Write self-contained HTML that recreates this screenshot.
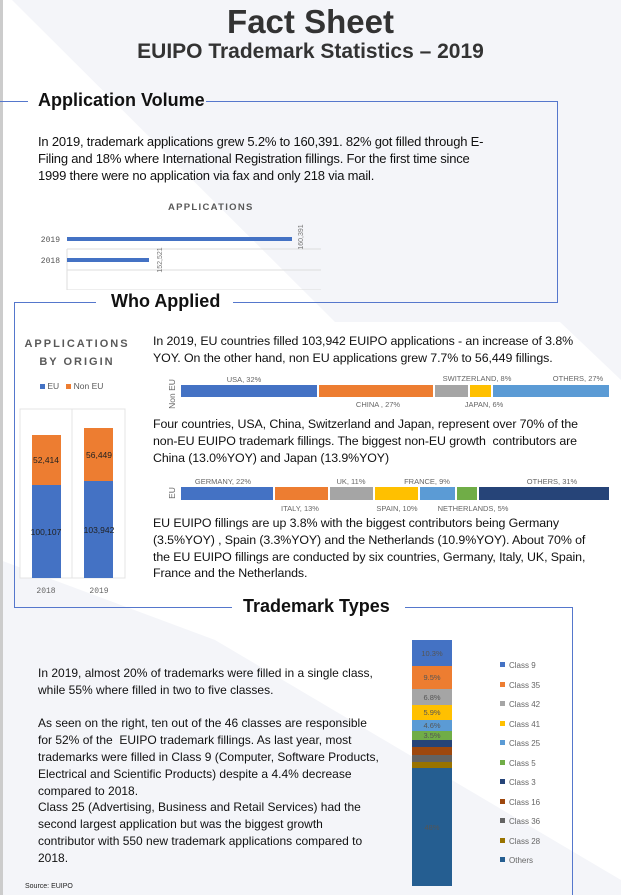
<!DOCTYPE html>
<html><head><meta charset="utf-8"><style>
body{margin:0;width:621px;height:895px;position:relative;overflow:hidden;background:#fff;font-family:"Liberation Sans",sans-serif;color:#111}
.a{position:absolute;white-space:nowrap}
.h{font-weight:bold;font-size:18px}
.ln{position:absolute;background:#5577cc}
.wp{font-size:12.4px;line-height:16.8px;letter-spacing:-0.1px}
</style></head><body>
<svg class="a" style="left:0;top:0" width="621" height="895">
<polygon points="12,0 621,0 621,380 560,322 335,322" fill="#f4f5f9"/>
<polygon points="0,560 215,640 621,880 621,895 0,895" fill="#f4f5f9"/>
<rect x="0" y="0" width="3" height="895" fill="#ccc"/>
</svg>
<div class="a" style="left:0;width:621px;text-align:center;top:3px;font-size:33px;font-weight:bold;color:#333">Fact Sheet</div>
<div class="a" style="left:0;width:621px;text-align:center;top:40px;font-size:21px;font-weight:bold;color:#333">EUIPO Trademark Statistics – 2019</div>

<div class="ln" style="left:0;top:101px;width:28px;height:1px"></div>
<div class="ln" style="left:206px;top:101px;width:352px;height:1px"></div>
<div class="ln" style="left:557px;top:101px;width:1px;height:202px"></div>
<div class="ln" style="left:233px;top:302px;width:325px;height:1px"></div>
<div class="ln" style="left:14px;top:302px;width:82px;height:1px"></div>
<div class="ln" style="left:14px;top:302px;width:1px;height:306px"></div>
<div class="ln" style="left:14px;top:607px;width:218px;height:1px"></div>
<div class="ln" style="left:405px;top:607px;width:167px;height:1px"></div>
<div class="ln" style="left:572px;top:607px;width:1px;height:288px"></div>

<div class="a h" style="left:38px;top:90px">Application Volume</div>
<div class="a" style="left:38px;top:133px;font-size:13px;line-height:17px;letter-spacing:-0.2px">In 2019, trademark applications grew 5.2% to 160,391. 82% got filled through E-<br>Filing and 18% where International Registration fillings. For the first time since<br>1999 there were no application via fax and only 218 via mail.</div>
<div class="a" style="left:168px;top:202px;font-size:9.5px;font-weight:bold;color:#595959;letter-spacing:1.3px">APPLICATIONS</div>
<svg class="a" style="left:0;top:220px" width="340" height="70">
<line x1="67" y1="29" x2="321" y2="29" stroke="#ddd"/><line x1="67" y1="50" x2="321" y2="50" stroke="#ddd"/><line x1="67" y1="70" x2="321" y2="70" stroke="#ddd"/><line x1="67" y1="29" x2="67" y2="70" stroke="#ddd"/>
<rect x="67" y="17" width="225" height="4" fill="#4472c4"/>
<rect x="67" y="38" width="82" height="4" fill="#4472c4"/>
<text x="60" y="22" font-size="8" fill="#555" text-anchor="end" font-family="Liberation Mono">2019</text>
<text x="60" y="43" font-size="8" fill="#555" text-anchor="end" font-family="Liberation Mono">2018</text>
<text transform="translate(303,17) rotate(-90)" font-size="7" fill="#777" text-anchor="middle">160,391</text>
<text transform="translate(162,40) rotate(-90)" font-size="7" fill="#777" text-anchor="middle">152,521</text>
</svg>

<div class="a h" style="left:111px;top:291px">Who Applied</div>
<div class="a" style="left:17px;width:120px;text-align:center;top:335px;font-size:11px;font-weight:bold;color:#595959;letter-spacing:2px;line-height:18px">APPLICATIONS<br>BY ORIGIN</div>
<div class="a" style="left:40px;top:381px;font-size:8.5px;color:#595959"><span style="display:inline-block;width:5px;height:5px;background:#4472c4"></span> EU &nbsp;&nbsp;<span style="display:inline-block;width:5px;height:5px;background:#ed7d31"></span> Non EU</div>
<svg class="a" style="left:0;top:400px" width="150" height="200">
<rect x="20" y="9" width="105" height="169" fill="#fff" stroke="#e4e4e4"/>
<line x1="72" y1="9" x2="72" y2="178" stroke="#e4e4e4"/>
<rect x="32" y="35" width="29" height="50" fill="#ed7d31"/><rect x="32" y="85" width="29" height="93" fill="#4472c4"/>
<rect x="84" y="28" width="29" height="53" fill="#ed7d31"/><rect x="84" y="81" width="29" height="97" fill="#4472c4"/>
<text x="46" y="63" font-size="8.5" text-anchor="middle" fill="#222">52,414</text>
<text x="99" y="58" font-size="8.5" text-anchor="middle" fill="#222">56,449</text>
<text x="46" y="135" font-size="8.5" text-anchor="middle" fill="#222">100,107</text>
<text x="99" y="133" font-size="8.5" text-anchor="middle" fill="#222">103,942</text>
<text x="46" y="193" font-size="8" text-anchor="middle" fill="#666" font-family="Liberation Mono">2018</text>
<text x="99" y="193" font-size="8" text-anchor="middle" fill="#666" font-family="Liberation Mono">2019</text>
</svg>

<div class="a wp" style="left:153px;top:333px">In 2019, EU countries filled 103,942 EUIPO applications - an increase of 3.8%<br>YOY. On the other hand, non EU applications grew 7.7% to 56,449 fillings.</div>
<svg class="a" style="left:0;top:372px" width="621" height="40">
<text transform="translate(175,22) rotate(-90)" font-size="8.5" fill="#666" text-anchor="middle">Non EU</text>
<rect x="181" y="13" width="136" height="12" fill="#4472c4"/>
<rect x="319" y="13" width="114" height="12" fill="#ed7d31"/>
<rect x="435" y="13" width="33" height="12" fill="#a5a5a5"/>
<rect x="470" y="13" width="21" height="12" fill="#ffc000"/>
<rect x="493" y="13" width="116" height="12" fill="#5b9bd5"/>
<g font-size="7.5" fill="#666" text-anchor="middle">
<text x="244" y="10">USA, 32%</text>
<text x="477" y="9">SWITZERLAND, 8%</text>
<text x="578" y="9">OTHERS, 27%</text>
<text x="378" y="35">CHINA , 27%</text>
<text x="484" y="35">JAPAN, 6%</text></g>
</svg>
<div class="a wp" style="left:153px;top:416px">Four countries, USA, China, Switzerland and Japan, represent over 70% of the<br>non-EU EUIPO trademark fillings. The biggest non-EU growth&nbsp; contributors are<br>China (13.0%YOY) and Japan (13.9%YOY)</div>
<svg class="a" style="left:0;top:474px" width="621" height="40">
<text transform="translate(175,19) rotate(-90)" font-size="8.5" fill="#666" text-anchor="middle">EU</text>
<rect x="181" y="13" width="92" height="13" fill="#4472c4"/>
<rect x="275" y="13" width="53" height="13" fill="#ed7d31"/>
<rect x="330" y="13" width="43" height="13" fill="#a5a5a5"/>
<rect x="375" y="13" width="43" height="13" fill="#ffc000"/>
<rect x="420" y="13" width="35" height="13" fill="#5b9bd5"/>
<rect x="457" y="13" width="20" height="13" fill="#70ad47"/>
<rect x="479" y="13" width="130" height="13" fill="#264478"/>
<g font-size="7.5" fill="#666" text-anchor="middle">
<text x="223" y="10">GERMANY, 22%</text>
<text x="351" y="10">UK, 11%</text>
<text x="427" y="10">FRANCE, 9%</text>
<text x="552" y="10">OTHERS, 31%</text>
<text x="300" y="37">ITALY, 13%</text>
<text x="397" y="37">SPAIN, 10%</text>
<text x="473" y="37">NETHERLANDS, 5%</text></g>
</svg>
<div class="a wp" style="left:153px;top:515px">EU EUIPO fillings are up 3.8% with the biggest contributors being Germany<br>(3.5%YOY) , Spain (3.3%YOY) and the Netherlands (10.9%YOY). About 70% of<br>the EU EUIPO fillings are conducted by six countries, Germany, Italy, UK, Spain,<br>France and the Netherlands.</div>

<div class="a h" style="left:243px;top:596px">Trademark Types</div>
<div class="a" style="left:38px;top:665px;font-size:12px;line-height:16.8px">In 2019, almost 20% of trademarks were filled in a single class,<br>while 55% where filled in two to five classes.<br><br>As seen on the right, ten out of the 46 classes are responsible<br>for 52% of the&nbsp; EUIPO trademark fillings. As last year, most<br>trademarks were filled in Class 9 (Computer, Software Products,<br>Electrical and Scientific Products) despite a 4.4% decrease<br>compared to 2018.<br>Class 25 (Advertising, Business and Retail Services) had the<br>second largest application but was the biggest growth<br>contributor with 550 new trademark applications compared to<br>2018.</div>
<div class="a" style="left:25px;top:883px;font-size:7px;color:#222">Source: EUIPO</div>

<svg class="a" style="left:400px;top:630px" width="170" height="265" font-size="7.5">
<rect x="12" y="10" width="40" height="26" fill="#4472c4"/>
<rect x="12" y="36" width="40" height="23" fill="#ed7d31"/>
<rect x="12" y="59" width="40" height="16" fill="#a5a5a5"/>
<rect x="12" y="75" width="40" height="15" fill="#ffc000"/>
<rect x="12" y="90" width="40" height="11" fill="#5b9bd5"/>
<rect x="12" y="101" width="40" height="9" fill="#70ad47"/>
<rect x="12" y="110" width="40" height="7" fill="#264478"/>
<rect x="12" y="117" width="40" height="8" fill="#9e480e"/>
<rect x="12" y="125" width="40" height="7" fill="#636363"/>
<rect x="12" y="132" width="40" height="6" fill="#997300"/>
<rect x="12" y="138" width="40" height="118" fill="#255e91"/>
<g fill="#555" text-anchor="middle">
<text x="32" y="26">10.3%</text><text x="32" y="50">9.5%</text><text x="32" y="70">6.8%</text><text x="32" y="85">5.9%</text><text x="32" y="98">4.6%</text><text x="32" y="108">3.5%</text><text x="32" y="200">48%</text></g>
<g fill="#666" font-size="8">
<rect x="100" y="32" width="5" height="5" fill="#4472c4"/><text x="109" y="38">Class 9</text>
<rect x="100" y="52" width="5" height="5" fill="#ed7d31"/><text x="109" y="58">Class 35</text>
<rect x="100" y="71" width="5" height="5" fill="#a5a5a5"/><text x="109" y="77">Class 42</text>
<rect x="100" y="91" width="5" height="5" fill="#ffc000"/><text x="109" y="97">Class 41</text>
<rect x="100" y="110" width="5" height="5" fill="#5b9bd5"/><text x="109" y="116">Class 25</text>
<rect x="100" y="130" width="5" height="5" fill="#70ad47"/><text x="109" y="136">Class 5</text>
<rect x="100" y="149" width="5" height="5" fill="#264478"/><text x="109" y="155">Class 3</text>
<rect x="100" y="169" width="5" height="5" fill="#9e480e"/><text x="109" y="175">Class 16</text>
<rect x="100" y="188" width="5" height="5" fill="#636363"/><text x="109" y="194">Class 36</text>
<rect x="100" y="208" width="5" height="5" fill="#997300"/><text x="109" y="214">Class 28</text>
<rect x="100" y="227" width="5" height="5" fill="#255e91"/><text x="109" y="233">Others</text>
</g>
</svg>
</body></html>
